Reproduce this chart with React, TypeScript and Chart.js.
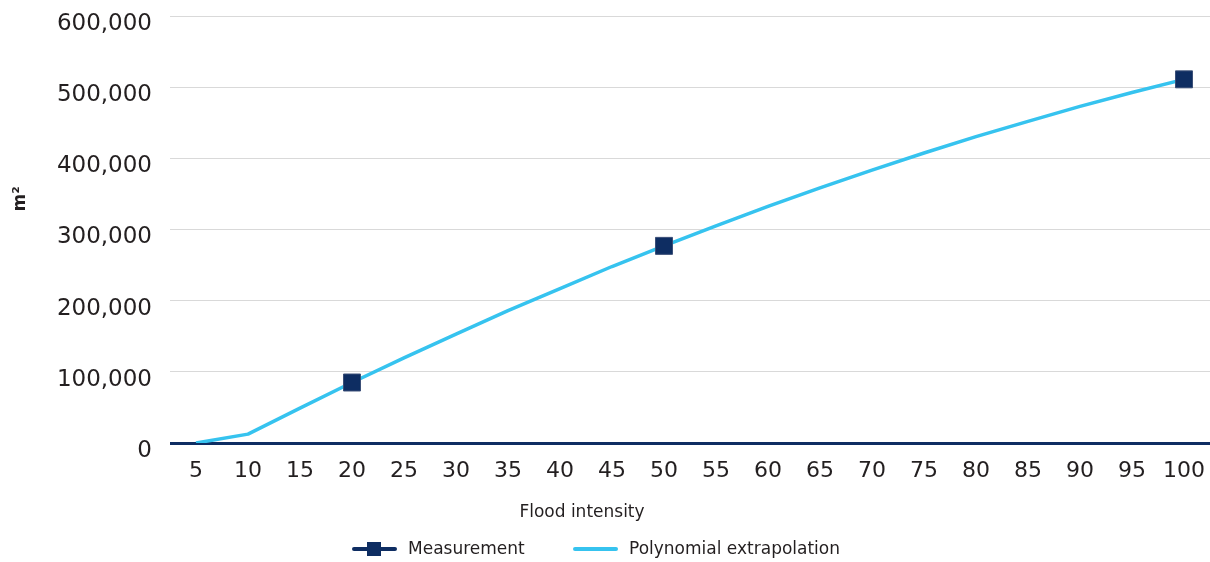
import React, { useEffect, useRef } from "react";
import { Chart, registerables } from "chart.js";

Chart.register(...registerables);

// Flood intensity categories on the x axis
const intensities: string[] = [
  "5", "10", "15", "20", "25", "30", "35", "40", "45", "50",
  "55", "60", "65", "70", "75", "80", "85", "90", "95", "100",
];

// Measured areas (m²) at three intensities
const measurement: (number | null)[] = [
  null, null, null, 85000, null, null, null, null, null, 277000,
  null, null, null, null, null, null, null, null, null, 511000,
];

// Polynomial extrapolation of the area (m²)
const extrapolation: number[] = [
  0, 12500, 49000, 85000, 119500, 153000, 186000, 217000, 248000, 277000,
  305000, 332500, 358500, 383500, 407500, 430500, 452000, 473000, 492500, 511000,
];

const yTicks: number[] = [0, 100000, 200000, 300000, 400000, 500000, 600000];

const NAVY = "#0e2d62";
const SKY = "#36c3ef";
const TEXT = "#231f20";
const GRID = "#d9d9d9";
const FONT = "'DejaVu Sans', sans-serif";

const xTitle = "Flood intensity";
const yTitle = "m²";
const legendLabels = ["Measurement", "Polynomial extrapolation"];

// Let the plot run to the right edge of the canvas instead of reserving
// room for the half-width of the last x tick label.
const noScalePadding = {
  id: "noScalePadding",
  beforeLayout(chart: any) {
    const x = chart.scales && chart.scales.x;
    if (x) x.getPadding = () => ({ top: 0, left: 0, right: 0, bottom: 0 });
  },
};

const decorations = {
  id: "decorations",
  afterDraw(chart: Chart) {
    const ctx = chart.ctx;
    ctx.save();
    ctx.fillStyle = TEXT;

    // y axis title
    ctx.save();
    ctx.translate(21, 199);
    ctx.rotate(-Math.PI / 2);
    ctx.font = `bold 17px ${FONT}`;
    ctx.textAlign = "center";
    ctx.textBaseline = "middle";
    ctx.fillText(yTitle, 0, 0);
    ctx.restore();

    // x axis title
    ctx.font = `17px ${FONT}`;
    ctx.textAlign = "center";
    ctx.textBaseline = "middle";
    ctx.fillText(xTitle, 582, 513);

    // legend
    const ly = 549;
    ctx.lineCap = "round";
    ctx.strokeStyle = NAVY;
    ctx.lineWidth = 4;
    ctx.beginPath();
    ctx.moveTo(354, ly);
    ctx.lineTo(395, ly);
    ctx.stroke();
    ctx.fillStyle = NAVY;
    ctx.fillRect(367, ly - 7, 14, 14);

    ctx.strokeStyle = SKY;
    ctx.beginPath();
    ctx.moveTo(575, ly);
    ctx.lineTo(616, ly);
    ctx.stroke();

    ctx.fillStyle = TEXT;
    ctx.textAlign = "left";
    ctx.fillText(legendLabels[0], 408, ly + 1);
    ctx.fillText(legendLabels[1], 629, ly + 1);
    ctx.restore();
  },
};

export default function App() {
  const canvasRef = useRef<HTMLCanvasElement | null>(null);

  useEffect(() => {
    if (!canvasRef.current) return;
    const chart = new Chart(canvasRef.current, {
      type: "line",
      data: {
        labels: intensities,
        datasets: [
          {
            label: legendLabels[0],
            data: measurement,
            showLine: false,
            pointStyle: "rect",
            pointRadius: 12,
            pointHoverRadius: 12,
            pointBackgroundColor: NAVY,
            pointBorderColor: "#3b4f78",
            pointBorderWidth: 1,
            borderColor: NAVY,
            backgroundColor: NAVY,
          },
          {
            label: legendLabels[1],
            data: extrapolation,
            borderColor: SKY,
            backgroundColor: SKY,
            borderWidth: 3.5,
            pointRadius: 0,
            tension: 0,
            borderJoinStyle: "round",
          },
        ],
      },
      options: {
        responsive: false,
        animation: false,
        devicePixelRatio: 1,
        layout: { autoPadding: false, padding: { top: 16, right: 0, left: 0, bottom: 0 } },
        plugins: {
          legend: { display: false },
          tooltip: { enabled: false },
        },
        scales: {
          x: {
            type: "category",
            offset: true,
            grid: { display: false, drawTicks: false },
            border: { display: false },
            ticks: {
              color: TEXT,
              font: { family: FONT, size: 22 },
              padding: 15,
              maxRotation: 0,
              autoSkip: false,
            },
            afterFit(scale: any) {
              scale.height = 119;
            },
          },
          y: {
            min: 0,
            max: 600000,
            afterBuildTicks(scale: any) {
              scale.ticks = yTicks.map((v) => ({ value: v }));
            },
            grid: {
              drawTicks: false,
              color: (c: any) => (c.tick && c.tick.value === 0 ? NAVY : GRID),
              lineWidth: (c: any) => (c.tick && c.tick.value === 0 ? 3 : 1),
            },
            border: { display: false },
            ticks: {
              color: TEXT,
              font: { family: FONT, size: 23 },
              padding: 18,
              labelOffset: 8,
              callback: (v: any) => Number(v).toLocaleString("en-US"),
            },
            afterFit(scale: any) {
              scale.width = 170;
              scale.paddingTop = 0;
              scale.paddingBottom = 0;
            },
          },
        },
      },
      plugins: [noScalePadding, decorations],
    });
    return () => chart.destroy();
  }, []);

  return (
    <div style={{ position: "fixed", left: 0, top: 0, width: 1210, height: 562, background: "#fff" }}>
      <canvas ref={canvasRef} width={1210} height={562} />
    </div>
  );
}
